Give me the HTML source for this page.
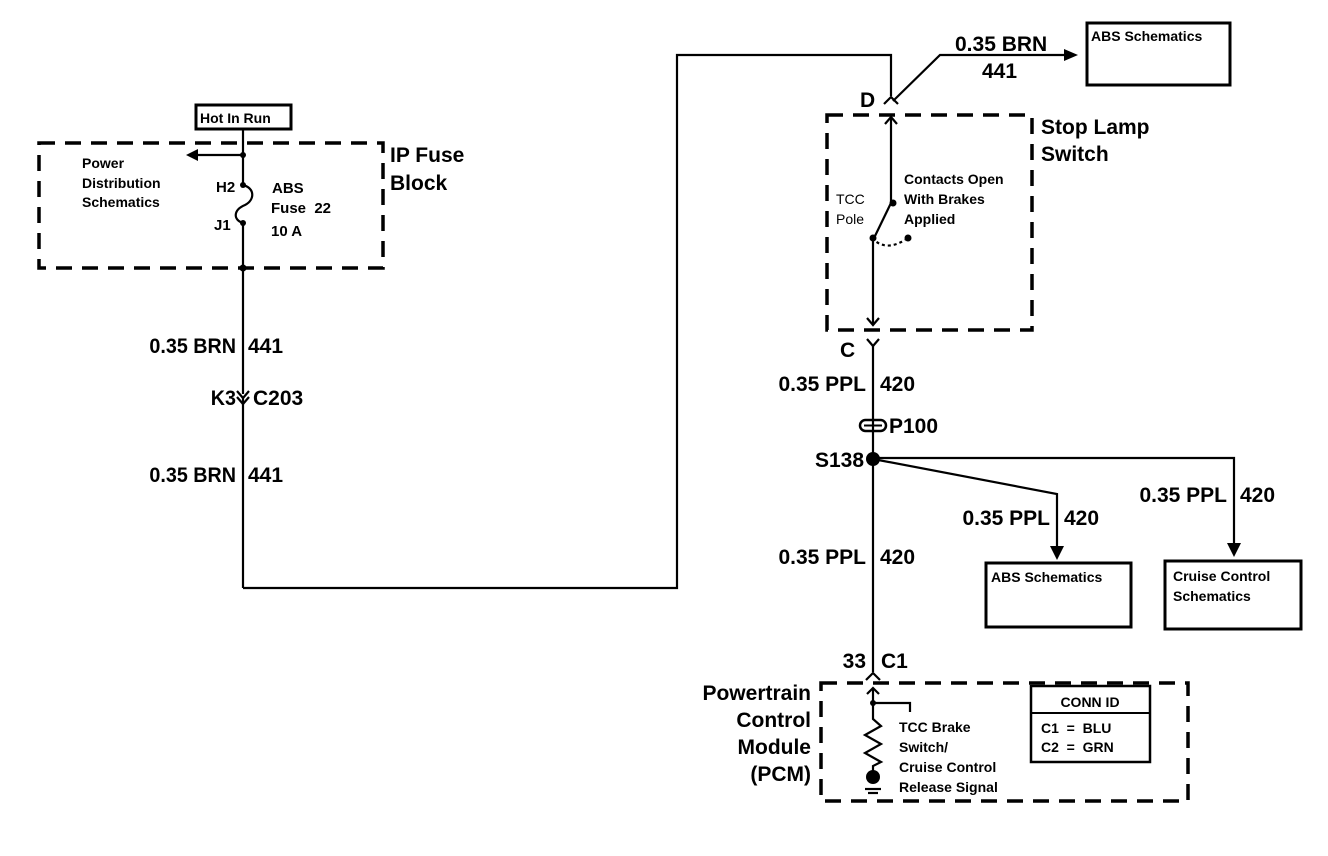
<!DOCTYPE html>
<html><head><meta charset="utf-8"><style>
html,body{margin:0;padding:0;background:#fff}
svg{display:block}
text{font-family:"Liberation Sans",Arial,sans-serif;fill:#000}
.b{font-weight:bold}
</style></head><body>
<svg width="1328" height="856" viewBox="0 0 1328 856" xmlns="http://www.w3.org/2000/svg">
<g fill="none" stroke="#000" stroke-width="2.2">
<rect x="196" y="105" width="95" height="24" stroke-width="3"/>
<rect x="39" y="143" width="344" height="125" stroke-width="3.5" stroke-dasharray="16,10"/>
<line x1="243" y1="129" x2="243" y2="185"/>
<line x1="243" y1="155" x2="196" y2="155"/>
<path d="M243,185 C255,188 255,200 245,205 C233,210 233,220 243,223"/>
<line x1="243" y1="223" x2="243" y2="394"/>
<path d="M237,391 L243,398 L249,391 M237,397 L243,404 L249,397"/>
<line x1="243" y1="398" x2="243" y2="588"/>
<polyline points="243,588 677,588 677,55 891,55 891,96"/>
<path d="M884,104 L891,97 L898,104"/>
<polyline points="893,101 940,55 1068,55"/>
<rect x="1087" y="23" width="143" height="62" stroke-width="3"/>
<rect x="827" y="115" width="205" height="215" stroke-width="3.5" stroke-dasharray="16,10"/>
<line x1="891" y1="117" x2="891" y2="203"/>
<path d="M885,124 L891,117 L897,124"/>
<line x1="891" y1="203" x2="875" y2="236"/>
<path d="M872,238 Q885,252 905,240" stroke-dasharray="3,3"/>
<line x1="873" y1="238" x2="873" y2="325"/>
<path d="M867,318 L873,325 L879,318"/>
<path d="M867,339 L873,346 L879,339"/>
<line x1="873" y1="346" x2="873" y2="672"/>
<rect x="860" y="420" width="26" height="11" rx="5.5" stroke-width="2.5"/>
<line x1="864" y1="425.5" x2="882" y2="425.5" stroke-width="2"/>
<polyline points="873,459 1057,494 1057,548"/>
<polyline points="873,458 1234,458 1234,545"/>
<rect x="986" y="563" width="145" height="64" stroke-width="3"/>
<rect x="1165" y="561" width="136" height="68" stroke-width="3"/>
<path d="M866,680 L873,673 L880,680"/>
<rect x="821" y="683" width="367" height="118" stroke-width="3.5" stroke-dasharray="16,10"/>
<line x1="873" y1="688" x2="873" y2="712"/>
<path d="M867,694 L873,688 L879,694"/>
<polyline points="873,703 910,703 910,712"/>
<polyline points="873,712 873,719 881,726 865,735 881,744 865,753 881,762 873,766 873,772"/>
<line x1="865" y1="789" x2="881" y2="789"/>
<line x1="868" y1="793" x2="878" y2="793"/>
<rect x="1031" y="686" width="119" height="76" stroke-width="2.5"/>
<line x1="1031" y1="713" x2="1150" y2="713" stroke-width="2"/>
</g>
<g fill="#000">
<path d="M186,155 L198,149 L198,161 z"/>
<path d="M1078,55 L1064,49 L1064,61 z"/>
<path d="M1057,560 L1050,546 L1064,546 z"/>
<path d="M1234,557 L1227,543 L1241,543 z"/>
<circle cx="243" cy="155" r="3"/>
<circle cx="243" cy="185" r="3"/>
<circle cx="243" cy="223" r="3"/>
<circle cx="243" cy="268" r="3.5"/>
<circle cx="893" cy="203" r="3.5"/>
<circle cx="873" cy="238" r="3.5"/>
<circle cx="908" cy="238" r="3.5"/>
<circle cx="873" cy="459" r="7"/>
<circle cx="873" cy="703" r="3"/>
<circle cx="873" cy="777" r="7"/>
</g>
<g class="b">
<text x="200" y="123" font-size="14">Hot In Run</text>
<text x="82" y="168" font-size="14">Power</text>
<text x="82" y="188" font-size="14">Distribution</text>
<text x="82" y="207" font-size="14">Schematics</text>
<text x="216" y="192" font-size="15">H2</text>
<text x="214" y="230" font-size="15">J1</text>
<text x="272" y="193" font-size="15">ABS</text>
<text x="271" y="213" font-size="15">Fuse&#160;&#160;22</text>
<text x="271" y="236" font-size="15">10 A</text>
<text x="390" y="162" font-size="21">IP Fuse</text>
<text x="390" y="190" font-size="21">Block</text>
<g transform="translate(236,0) scale(0.94,1) translate(-236,0)">
<text x="236" y="353" font-size="21" text-anchor="end">0.35 BRN</text>
<text x="236" y="482" font-size="21" text-anchor="end">0.35 BRN</text>
<text x="236" y="405" font-size="21" text-anchor="end">K3</text>
</g>
<text x="248" y="353" font-size="21">441</text>
<text x="253" y="405" font-size="21">C203</text>
<text x="248" y="482" font-size="21">441</text>
<text x="955" y="51" font-size="21">0.35 BRN</text>
<text x="982" y="78" font-size="21">441</text>
<text x="1091" y="41" font-size="14">ABS Schematics</text>
<text x="860" y="107" font-size="21">D</text>
<text x="1041" y="134" font-size="21">Stop Lamp</text>
<text x="1041" y="161" font-size="21">Switch</text>
<text x="904" y="184" font-size="14">Contacts Open</text>
<text x="904" y="204" font-size="14">With Brakes</text>
<text x="904" y="224" font-size="14">Applied</text>
<text x="836" y="204" font-size="14" font-weight="normal">TCC</text>
<text x="836" y="224" font-size="14" font-weight="normal">Pole</text>
<text x="840" y="357" font-size="21">C</text>
<text x="866" y="391" font-size="21" text-anchor="end">0.35 PPL</text>
<text x="880" y="391" font-size="21">420</text>
<text x="889" y="433" font-size="21">P100</text>
<text x="864" y="467" font-size="21" text-anchor="end">S138</text>
<text x="866" y="564" font-size="21" text-anchor="end">0.35 PPL</text>
<text x="880" y="564" font-size="21">420</text>
<text x="1050" y="525" font-size="21" text-anchor="end">0.35 PPL</text>
<text x="1064" y="525" font-size="21">420</text>
<text x="1227" y="502" font-size="21" text-anchor="end">0.35 PPL</text>
<text x="1240" y="502" font-size="21">420</text>
<text x="991" y="582" font-size="14">ABS Schematics</text>
<text x="1173" y="581" font-size="14">Cruise Control</text>
<text x="1173" y="601" font-size="14">Schematics</text>
<text x="866" y="668" font-size="21" text-anchor="end">33</text>
<text x="881" y="668" font-size="21">C1</text>
<text x="811" y="700" font-size="21" text-anchor="end">Powertrain</text>
<text x="811" y="727" font-size="21" text-anchor="end">Control</text>
<text x="811" y="754" font-size="21" text-anchor="end">Module</text>
<text x="811" y="781" font-size="21" text-anchor="end">(PCM)</text>
<text x="899" y="732" font-size="14">TCC Brake</text>
<text x="899" y="752" font-size="14">Switch/</text>
<text x="899" y="772" font-size="14">Cruise Control</text>
<text x="899" y="792" font-size="14">Release Signal</text>
<text x="1090" y="707" font-size="14" text-anchor="middle">CONN ID</text>
<text x="1041" y="733" font-size="14">C1&#160;&#160;=&#160;&#160;BLU</text>
<text x="1041" y="752" font-size="14">C2&#160;&#160;=&#160;&#160;GRN</text>
</g>
</svg>
</body></html>
